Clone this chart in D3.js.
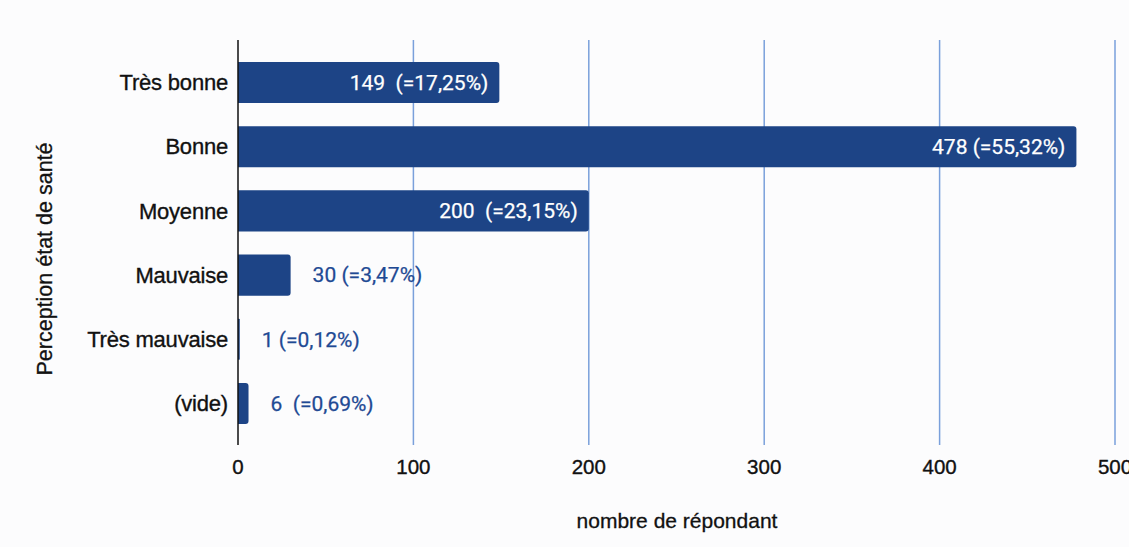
<!DOCTYPE html>
<html>
<head>
<meta charset="utf-8">
<script src="https://cdn.jsdelivr.net/npm/d3@7"></script>
<style>
  body { margin: 0; background: #fcfcfd; }
  svg { display: block; }
</style>
</head>
<body>
<svg id="chart" width="1129" height="547"></svg>
<script>
// data
const categories = ["Très bonne", "Bonne", "Moyenne", "Mauvaise", "Très mauvaise", "(vide)"]
const counts = [149, 478, 200, 30, 1, 6]
const labels = ["149  (=17,25%)", "478 (=55,32%)", "200  (=23,15%)", "30 (=3,47%)", "1 (=0,12%)", "6  (=0,69%)"]
const xTicks = [0, 100, 200, 300, 400, 500]

const BAR_COLOR = "#1d4486"
const GRID_COLOR = "#7aa0db"
const TEXT_COLOR = "#111"
const LABEL_FONT = "'Liberation Sans', Arial, sans-serif"
const margins = { top: 40, bottom: 102, left: 238, right: 14 }
const height = 547 - margins.top - margins.bottom

const svg = d3.select("#chart")
svg.append("rect").attr("width", 1129).attr("height", 547).attr("fill", "#fcfcfd")

const g = svg.append("g")
    .attr("transform", "translate(" + margins.left + "," + margins.top + ")")

const xRange = d3.scaleLinear()
    .domain([0, 500])
    .range([0, 877])

const yRange = d3.scaleBand()
    .domain(categories)
    .range([22, 384])
    .paddingInner(0.36)
    .paddingOuter(0)

// vertical grid lines
g.selectAll(".grid")
    .data(xTicks.slice(1))
    .enter()
    .append("line")
    .attr("class", "grid")
    .attr("x1", d => xRange(d))
    .attr("x2", d => xRange(d))
    .attr("y1", 0)
    .attr("y2", height)
    .attr("stroke", GRID_COLOR)
    .attr("stroke-width", 1.5)

// bars, rounded at the right end only
const r = 3
g.selectAll(".bar")
    .data(counts)
    .enter()
    .append("path")
    .attr("class", "bar")
    .attr("fill", BAR_COLOR)
    .attr("d", (d, i) => {
        const x0 = xRange(0), x1 = Math.max(xRange(d), x0 + 1.5)
        const y0 = yRange(categories[i]), h = yRange.bandwidth()
        const rr = Math.min(r, (x1 - x0) / 2)
        return "M" + x0 + "," + y0 +
            "H" + (x1 - rr) +
            "Q" + x1 + "," + y0 + " " + x1 + "," + (y0 + rr) +
            "V" + (y0 + h - rr) +
            "Q" + x1 + "," + (y0 + h) + " " + (x1 - rr) + "," + (y0 + h) +
            "H" + x0 + "Z"
    })

// value labels: inside for long bars, outside otherwise
g.selectAll(".val")
    .data(counts)
    .enter()
    .append("text")
    .attr("class", "val")
    .attr("x", d => d > 100 ? xRange(d) - 11 : xRange(d) + 22)
    .attr("y", (d, i) => yRange(categories[i]) + yRange.bandwidth() / 2)
    .attr("dy", "0.35em")
    .attr("text-anchor", d => d > 100 ? "end" : "start")
    .attr("fill", d => d > 100 ? "#ffffff" : "#1f4a94")
    .attr("stroke", d => d > 100 ? "#ffffff" : "#1f4a94")
    .attr("stroke-width", 0.25)
    .attr("font-family", "Roboto, sans-serif")
    .attr("font-size", 21)
    .style("white-space", "pre")
    .text((d, i) => labels[i])

// left axis line
g.append("line")
    .attr("x1", 0).attr("x2", 0)
    .attr("y1", 0).attr("y2", height)
    .attr("stroke", TEXT_COLOR)
    .attr("stroke-width", 1.5)

// category labels
g.selectAll(".cat")
    .data(categories)
    .enter()
    .append("text")
    .attr("class", "cat")
    .attr("x", -10)
    .attr("y", d => yRange(d) + yRange.bandwidth() / 2)
    .attr("dy", "0.35em")
    .attr("text-anchor", "end")
    .attr("font-family", LABEL_FONT)
    .attr("font-size", 22)
    .attr("fill", TEXT_COLOR)
    .attr("stroke", TEXT_COLOR)
    .attr("stroke-width", 0.35)
    .attr("letter-spacing", -0.2)
    .text(d => d)

// x tick labels
g.selectAll(".tick")
    .data(xTicks)
    .enter()
    .append("text")
    .attr("class", "tick")
    .attr("x", d => xRange(d))
    .attr("y", height + 29)
    .attr("text-anchor", "middle")
    .attr("font-family", LABEL_FONT)
    .attr("font-size", 20.5)
    .attr("fill", TEXT_COLOR)
    .attr("stroke", TEXT_COLOR)
    .attr("stroke-width", 0.35)
    .text(d => d)

// axis titles
svg.append("text")
    .attr("x", 677)
    .attr("y", 528)
    .attr("text-anchor", "middle")
    .attr("font-family", LABEL_FONT)
    .attr("font-size", 21)
    .attr("fill", TEXT_COLOR)
    .attr("stroke", TEXT_COLOR)
    .attr("stroke-width", 0.3)
    .text("nombre de répondant")

svg.append("text")
    .attr("transform", "translate(52,259) rotate(-90)")
    .attr("text-anchor", "middle")
    .attr("font-family", LABEL_FONT)
    .attr("font-size", 21.5)
    .attr("fill", TEXT_COLOR)
    .attr("stroke", TEXT_COLOR)
    .attr("stroke-width", 0.3)
    .text("Perception état de santé")
</script>
</body>
</html>
